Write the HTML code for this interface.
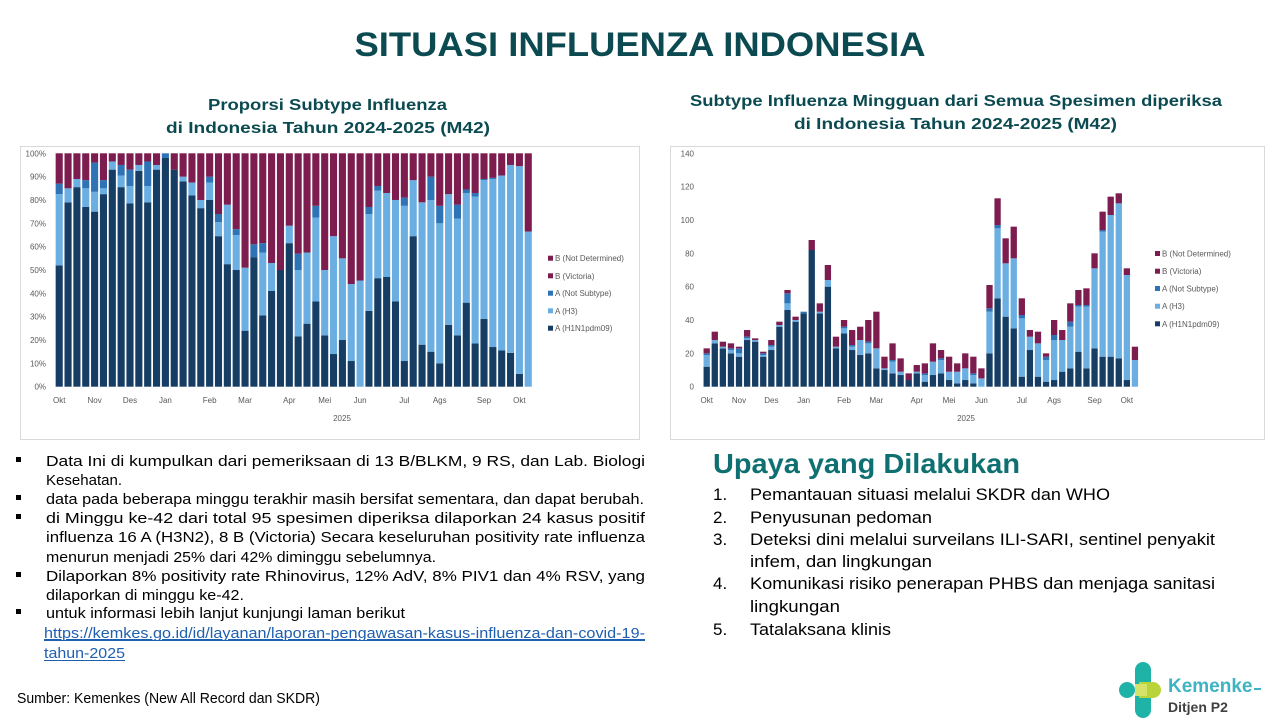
<!DOCTYPE html>
<html><head><meta charset="utf-8"><style>
html,body{margin:0;padding:0;background:#fff}
svg{display:block}
text{font-family:"Liberation Sans",sans-serif}
</style></head><body>
<svg id="s" width="1280" height="720" xmlns="http://www.w3.org/2000/svg">
<text x="640" y="56" text-anchor="middle" font-size="34" font-weight="bold" fill="#0b4a50" textLength="571" lengthAdjust="spacingAndGlyphs">SITUASI INFLUENZA INDONESIA</text>
<g font-weight="bold" font-size="16" fill="#0b4a50">
<text x="208" y="110" textLength="239" lengthAdjust="spacingAndGlyphs">Proporsi Subtype Influenza</text>
<text x="166" y="133" textLength="324" lengthAdjust="spacingAndGlyphs">di Indonesia Tahun 2024-2025 (M42)</text>
<text x="690" y="106" textLength="532" lengthAdjust="spacingAndGlyphs">Subtype Influenza Mingguan dari Semua Spesimen diperiksa</text>
<text x="794" y="129" textLength="323" lengthAdjust="spacingAndGlyphs">di Indonesia Tahun 2024-2025 (M42)</text>
</g>
<rect x="20.5" y="146.5" width="619" height="293" fill="none" stroke="#d9d9d9"/>
<rect x="670.5" y="146.5" width="594" height="293" fill="none" stroke="#d9d9d9"/>
<g id="L"></g><g id="R"></g>
<g font-size="14.5" fill="#000">
<g fill="#000"><rect x="16" y="457" width="5" height="5"/><rect x="16" y="495" width="5" height="5"/><rect x="16" y="514" width="5" height="5"/><rect x="16" y="572" width="5" height="5"/><rect x="16" y="609" width="5" height="5"/></g>
<text x="46" y="466" textLength="599" lengthAdjust="spacingAndGlyphs">Data Ini di kumpulkan dari pemeriksaan di 13 B/BLKM, 9 RS, dan Lab. Biologi</text>
<text x="46" y="485" textLength="76" lengthAdjust="spacingAndGlyphs">Kesehatan.</text>
<text x="46" y="504" textLength="598" lengthAdjust="spacingAndGlyphs">data pada beberapa minggu terakhir masih bersifat sementara, dan dapat berubah.</text>
<text x="46" y="523" textLength="599" lengthAdjust="spacingAndGlyphs">di Minggu ke-42 dari total 95 spesimen diperiksa dilaporkan 24 kasus positif</text>
<text x="46" y="542" textLength="599" lengthAdjust="spacingAndGlyphs">influenza 16 A (H3N2), 8 B (Victoria) Secara keseluruhan positivity rate influenza</text>
<text x="46" y="562" textLength="390" lengthAdjust="spacingAndGlyphs">menurun menjadi 25% dari 42% diminggu sebelumnya.</text>
<text x="46" y="581" textLength="599" lengthAdjust="spacingAndGlyphs">Dilaporkan 8% positivity rate Rhinovirus, 12% AdV, 8% PIV1 dan 4% RSV, yang</text>
<text x="46" y="600" textLength="198" lengthAdjust="spacingAndGlyphs">dilaporkan di minggu ke-42.</text>
<text x="46" y="618" textLength="359" lengthAdjust="spacingAndGlyphs">untuk informasi lebih lanjut kunjungi laman berikut</text>
<text x="44" y="638" fill="#1f5fb0" text-decoration="underline" textLength="601" lengthAdjust="spacingAndGlyphs">https://kemkes.go.id/id/layanan/laporan-pengawasan-kasus-influenza-dan-covid-19-</text>
<line x1="44" y1="640.5" x2="645" y2="640.5" stroke="#1f5fb0"/>
<text x="44" y="658" fill="#1f5fb0" textLength="81" lengthAdjust="spacingAndGlyphs">tahun-2025</text>
<line x1="44" y1="660.5" x2="125" y2="660.5" stroke="#1f5fb0"/>
<text x="17" y="703" textLength="303" lengthAdjust="spacingAndGlyphs">Sumber: Kemenkes (New All Record dan SKDR)</text>
</g>
<text x="713" y="473" font-size="28" font-weight="bold" fill="#0e7070" textLength="307" lengthAdjust="spacingAndGlyphs">Upaya yang Dilakukan</text>
<g font-size="17" fill="#000">
<text x="713" y="500">1.</text><text x="750" y="500" textLength="360" lengthAdjust="spacingAndGlyphs">Pemantauan situasi melalui SKDR dan WHO</text>
<text x="713" y="523">2.</text><text x="750" y="523" textLength="182" lengthAdjust="spacingAndGlyphs">Penyusunan pedoman</text>
<text x="713" y="545">3.</text><text x="750" y="545" textLength="465" lengthAdjust="spacingAndGlyphs">Deteksi dini melalui surveilans ILI-SARI, sentinel penyakit</text>
<text x="750" y="567" textLength="182" lengthAdjust="spacingAndGlyphs">infem, dan lingkungan</text>
<text x="713" y="589">4.</text><text x="750" y="589" textLength="465" lengthAdjust="spacingAndGlyphs">Komunikasi risiko penerapan PHBS dan menjaga sanitasi</text>
<text x="750" y="612" textLength="90" lengthAdjust="spacingAndGlyphs">lingkungan</text>
<text x="713" y="635">5.</text><text x="750" y="635" textLength="141" lengthAdjust="spacingAndGlyphs">Tatalaksana klinis</text>
</g>
<g transform="translate(1139,690)">
<circle cx="-12" cy="0" r="8" fill="#1fb3a8"/>
<path d="M-4,-20 a8,8 0 0 1 16,0 v14 h-16z" fill="#1fb3a8"/>
<path d="M-4,6 h16 v14 a8,8 0 0 1 -16,0z" fill="#1fb3a8"/>
<path d="M0,-8 h14 a8,8 0 0 1 0,16 h-14z" fill="#b8d43a"/>
<path d="M-4,-6 h12 v12 h-12z" fill="#d6e36a"/>
</g>
<text x="1168" y="692" font-size="19" font-weight="bold" fill="#3db3c3">Kemenke</text>
<rect x="1254" y="688" width="7" height="2" fill="#3db3c3"/>
<text x="1168" y="712" font-size="14" font-weight="bold" fill="#404040">Ditjen P2</text>
</svg>
<script>
var NS="http://www.w3.org/2000/svg";
function el(p,t,a,txt){var e=document.createElementNS(NS,t);for(var k in a)e.setAttribute(k,a[k]);if(txt!==undefined)e.textContent=txt;p.appendChild(e);return e;}
var C=["#163d63","#6aaee2","#2e73b5","#7d1c4e"];
var months=["Okt","Nov","Des","Jan","Feb","Mar","Apr","Mei","Jun","Jul","Ags","Sep","Okt"];
var mIdx=[0,4,8,12,17,21,26,30,34,39,43,48,52];
var names=["B (Not Determined)","B (Victoria)","A (Not Subtype)","A (H3)","A (H1N1pdm09)"];
var lc=[C[3],C[3],C[2],C[1],C[0]];
var Ld=[[52,82.5,87],[79,85,85],[85.5,89,89],[77,85,88.5],[75,83.5,96],[82.5,85,88.5],[93,96.5,96.5],[85.5,90.5,95],[78.5,86,93],[92.5,95,95],[79,86,96.5],[93,95,95],[98,98,100],[93,93,93],[88,90,90],[82,87.5,87.5],[76.5,80,80],[80,87.5,90],[64.5,70.5,74],[52.5,78,78],[50,65,67.5],[24,51,51],[55.5,55.5,61],[30.5,57.5,61.5],[41,53,53],[50,50,50],[61.5,69,69],[21.5,50,57],[27,57.5,57.5],[36.5,72.5,77.5],[22,50,50],[14,64.5,64.5],[20,55,55],[11,44,44],[0,45.5,45.5],[32.5,74,77],[46.5,84,86],[47,83,83],[36.5,80,80],[11,77.5,81],[64.5,88.5,88.5],[18,79,79],[15,80,90],[10,70,77.5],[26.5,82.5,82.5],[22,72,78],[36,83,84.5],[18.5,81.5,83],[29,88.5,89],[17,89,89.5],[15.5,90.5,90.5],[14.5,95,95],[5.5,94.5,94.5],[0,66.5,66.5]];
var Rd=[[12,19,20,23],[26,28,28,33],[23,24,24,27],[20,22,23,26],[18,20,23,24],[28,29,30,34],[27,28,28,29],[18,19,20,21],[22,24,25,28],[36,37,37,39],[46,50,56,58],[39,40,40,42],[44,44,45,45],[82,82,82,88],[44,45,45,50],[60,64,64,73],[23,24,24,30],[32,35,36,40],[22,24,25,34],[19,28,28,36],[20,26,27,40],[11,23,23,45],[10,11,11,18],[8,15,16,26],[7,9,9,17],[4,4,4,8],[8,9,9,13],[3,7,8,14],[7,15,15,26],[8,16,17,22],[4,9,9,18],[2,9,9,14],[4,11,11,20],[2,7,8,18],[0,5,5,11],[20,45,47,61],[53,95,97,113],[42,74,74,89],[35,77,77,96],[6,41,43,53],[22,30,30,34],[6,26,26,33],[3,16,18,20],[4,28,31,40],[9,28,28,34],[11,36,39,50],[21,48,49,58],[11,48,49,59],[23,71,71,80],[18,93,94,105],[18,103,103,114],[17,110,110,116],[4,67,67,71],[0,16,16,24]];
function chart(g,data,opt){
  var y0=386.7,h=233.4;
  function Y(v){return y0-v/opt.max*h;}
  data.forEach(function(d,i){
    var cx=opt.x0+i*opt.p, x=cx-opt.w/2;
    var st=[0].concat(d);
    for(var k=0;k<4;k++){var a=st[k],b=st[k+1];if(b>a)el(g,"rect",{x:x,y:Y(b),width:opt.w,height:Y(a)-Y(b),fill:C[k]});}
  });
  for(var v=0;v<=opt.max;v+=opt.step){el(g,"text",{x:opt.lx,y:Y(v)+3,"font-size":8,"text-anchor":"end",fill:"#595959"},opt.fmt(v));}
  mIdx.forEach(function(j,k){el(g,"text",{x:opt.x0+j*opt.p,y:403,"font-size":8,"text-anchor":"middle",fill:"#595959"},months[k]);});
  el(g,"text",{x:opt.yx,y:421,"font-size":8,"text-anchor":"middle",fill:"#595959"},"2025");
  opt.ly.forEach(function(yy,k){el(g,"rect",{x:opt.lgx,y:yy-3,width:5,height:5,fill:lc[k]});el(g,"text",{x:opt.lgx+7,y:yy+2.5,"font-size":8,fill:"#595959"},names[k]);});
}
var Ldata=Ld.map(function(d){return [d[0],d[1],d[2],100];});
chart(document.getElementById("L"),Ldata,{x0:59.2,p:8.85,w:7.1,max:100,step:10,lx:46,fmt:function(v){return v+"%";},yx:342,lgx:548,ly:[258.7,276.3,293.7,311.3,328.7]});
chart(document.getElementById("R"),Rd,{x0:706.7,p:8.08,w:6.3,max:140,step:20,lx:694,fmt:function(v){return ""+v;},yx:966,lgx:1155,ly:[254,271.7,289,306.7,324.3]});
</script>
</body></html>
